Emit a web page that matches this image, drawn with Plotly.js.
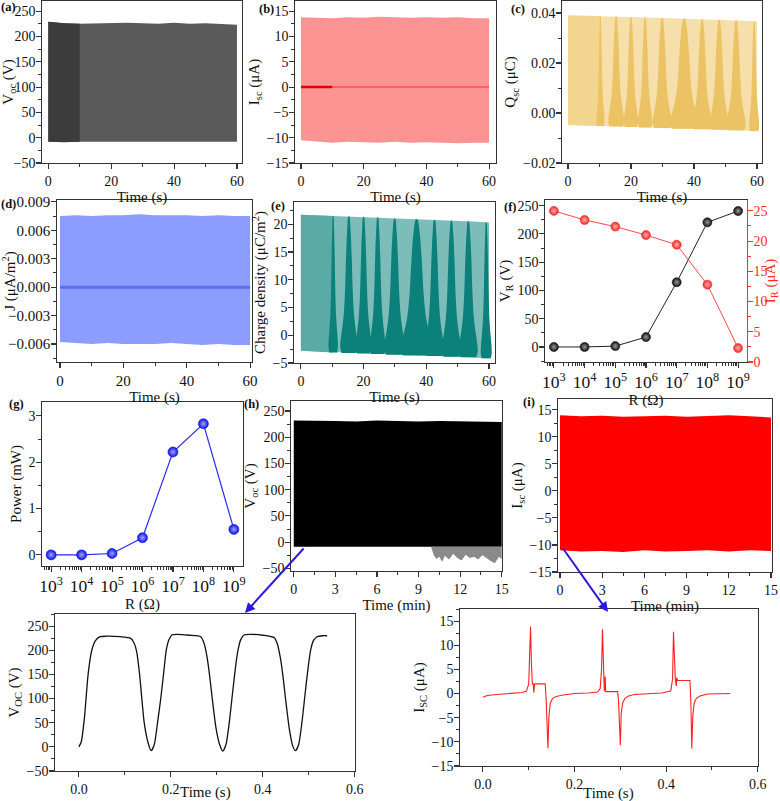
<!DOCTYPE html>
<html><head><meta charset="utf-8">
<script src="https://cdn.plot.ly/plotly-3.0.1.min.js"></script>
<style>html,body{margin:0;padding:0;background:#fff}</style>
</head><body><div id="chart" style="width:780px;height:801px"></div>
<script>
// ---------------- DATA ----------------
// (a) Voc envelope, 60 s
const aTime = [0, 5, 10, 15, 20, 25, 30, 35, 40, 45, 50, 55, 60];
const aVocTop = [229, 226, 225, 226, 226, 227, 226, 225, 227, 225, 226, 224, 223];
const aVocBottom = [-8, -9, -8, -8, -8, -8, -8, -8, -8, -8, -8, -8, -8];
const aDenseEnd = 10;
// (b) Isc envelope
const bTime = [0, 5, 10, 15, 20, 25, 30, 35, 40, 45, 50, 55, 60];
const bIscTop = [13.8, 13.7, 13.6, 13.8, 13.7, 13.9, 13.8, 13.7, 13.8, 13.7, 13.8, 13.6, 13.6];
const bIscBottom = [-10.5, -10.8, -11.0, -10.8, -10.9, -11.0, -10.8, -11.0, -10.9, -11.0, -11.1, -11.0, -11.0];
const bBaseTime = [0, 10];
const bBase = [0, 0];
const bBaseTime2 = [10, 60];
const bBase2 = [0, 0];
// (c) Qsc envelope and beat lobes
const cTime = [0, 5, 10, 15, 20, 25, 30, 35, 40, 45, 50, 55, 60];
const cQTop = [0.0390, 0.0389, 0.0388, 0.0386, 0.0384, 0.0382, 0.0380, 0.0378, 0.0376, 0.0374, 0.0372, 0.0370, 0.0367];
const cQBottom = [-0.0048, -0.0050, -0.0052, -0.0054, -0.0056, -0.0058, -0.0060, -0.0062, -0.0064, -0.0066, -0.0068, -0.0070, -0.0073];
const lobeCenters = [10.3, 15.3, 20.0, 24.5, 29.9, 36.9, 42.6, 48.0, 53.4, 59.1];
const cLobeWidths = [2.5, 5.0, 4.5, 4.5, 6.0, 9.0, 6.0, 6.0, 6.0, 3.2];
// (d) current density envelope
const dTime = [0, 5, 10, 15, 20, 25, 30, 35, 40, 45, 50, 55, 60];
const dJTop = [0.0075, 0.0076, 0.0075, 0.0076, 0.0076, 0.0077, 0.0076, 0.0076, 0.0076, 0.0075, 0.0076, 0.0075, 0.0075];
const dJBottom = [-0.0058, -0.0059, -0.0060, -0.0059, -0.0060, -0.0060, -0.0060, -0.0059, -0.0060, -0.0061, -0.0060, -0.0061, -0.0061];
const dBaseTime = [0, 60];
const dBase = [0, 0];
// (e) charge density envelope and lobes
const eTime = [0, 5, 10, 15, 20, 25, 30, 35, 40, 45, 50, 55, 60];
const eTop = [21.7, 21.6, 21.5, 21.4, 21.3, 21.2, 21.0, 20.9, 20.8, 20.7, 20.6, 20.5, 20.3];
const eBottom = [-2.8, -2.9, -3.1, -3.2, -3.3, -3.4, -3.5, -3.6, -3.7, -3.8, -3.9, -4.0, -4.2];
const eLobeWidths = [3.0, 5.5, 5.0, 5.0, 6.5, 10.0, 6.0, 6.0, 6.0, 3.5];
// (f) load resistance sweep
const fR = [1e3, 1e4, 1e5, 1e6, 1e7, 1e8, 1e9];
const fVR = [0, 0, 1.5, 17.5, 114.5, 220.5, 240.5];
const fIR = [25.0, 23.5, 22.4, 21.0, 19.4, 12.8, 2.3];
// (g) power
const gR = [1e3, 1e4, 1e5, 1e6, 1e7, 1e8, 1e9];
const gPower = [0, 0, 0.03, 0.37, 2.22, 2.83, 0.55];
// (h) Voc 15 min
const hTime = [0, 1.5, 3, 4.5, 6, 7.5, 9, 10.5, 12, 13.5, 15];
const hVocTop = [232, 232, 231, 230, 232, 231, 230, 231, 230, 230, 229];
const hVocBottom = [-9, -9, -9, -9, -9, -9, -9, -9, -9, -9, -9];
const hNoiseTime = [9.9, 10.1, 10.3, 10.5, 10.7, 10.9, 11.2, 11.5, 11.8, 12.1, 12.4, 12.7, 13.0, 13.3, 13.6, 13.9, 14.2, 14.5, 14.8, 15];
const hNoiseLow = [-9, -25, -32, -28, -38, -26, -33, -22, -30, -35, -24, -30, -28, -33, -25, -30, -36, -40, -28, -32];
const hNoiseHigh = [-9, -9, -9, -9, -9, -9, -9, -9, -9, -9, -9, -9, -9, -9, -9, -9, -9, -9, -9, -9];
// (i) Isc 15 min
const iTime = [0, 1.5, 3, 4.5, 6, 7.5, 9, 10.5, 12, 13.5, 15];
const iIscTop = [14.0, 13.8, 13.9, 13.7, 13.8, 13.9, 13.7, 13.8, 14.0, 13.8, 13.6];
const iIscBottom = [-11.0, -11.2, -11.1, -11.3, -11.0, -11.2, -11.1, -11.0, -11.2, -11.0, -11.1];
// (j) Voc zoom-in
const jTime = [0, 0.005, 0.012, 0.02, 0.028, 0.036, 0.046, 0.06, 0.09, 0.112, 0.12, 0.126, 0.132, 0.142, 0.15, 0.157, 0.164, 0.171, 0.178, 0.184, 0.19, 0.196, 0.203, 0.215, 0.24, 0.265, 0.272, 0.278, 0.284, 0.29, 0.298, 0.306, 0.313, 0.32, 0.327, 0.334, 0.34, 0.346, 0.352, 0.36, 0.375, 0.4, 0.425, 0.432, 0.438, 0.444, 0.45, 0.458, 0.465, 0.471, 0.478, 0.485, 0.492, 0.498, 0.504, 0.51, 0.518, 0.53, 0.54];
const jVoc = [0, 10, 60, 150, 200, 220, 228, 229, 228, 225, 215, 195, 150, 50, 10, -8, 5, 50, 100, 150, 200, 222, 232, 233, 231, 228, 215, 190, 150, 100, 40, 5, -9, 5, 50, 110, 160, 200, 222, 232, 233, 231, 226, 212, 185, 145, 95, 35, 2, -8, 5, 50, 110, 160, 200, 220, 228, 230, 230];
// (k) Isc zoom-in
const kTime = [0, 0.01, 0.03, 0.06, 0.085, 0.095, 0.1, 0.102, 0.104, 0.106, 0.108, 0.11, 0.111, 0.113, 0.125, 0.136, 0.138, 0.14, 0.142, 0.144, 0.147, 0.152, 0.16, 0.175, 0.2, 0.23, 0.25, 0.256, 0.259, 0.261, 0.263, 0.265, 0.267, 0.268, 0.27, 0.28, 0.294, 0.296, 0.298, 0.3, 0.302, 0.305, 0.31, 0.318, 0.33, 0.36, 0.39, 0.41, 0.414, 0.416, 0.418, 0.42, 0.422, 0.423, 0.425, 0.44, 0.452, 0.454, 0.456, 0.458, 0.461, 0.466, 0.474, 0.49, 0.52, 0.54];
const kIsc = [-0.7, -0.4, -0.2, 0, 0.2, 0.5, 2, 8, 13.8, 6, 2, 2, 0.2, 2, 2, 2, -1, -6, -11.3, -5, -2, -1, -0.6, -0.3, 0, 0.1, 0.3, 1, 5, 13.3, 4, 0.5, 3.5, 0.4, 0.4, 0.4, 0.4, -1.5, -6, -10.7, -4, -2, -1, -0.5, -0.2, 0, 0.1, 0.5, 3, 12.8, 5, 3, 1.5, 3.3, 2.7, 2.7, 2.7, -2, -11.4, -5, -2, -1, -0.5, -0.1, 0, 0];

// ---------------- LAYOUT / STYLE ----------------
const W = 780, H = 801;
const FONT = 'Liberation Serif';
// pixel boxes [x0, x1, y0, y1] of each panel frame
const boxes = {
  a: [42, 242, 1, 163], b: [295, 496, 1, 163], c: [562, 762, 1, 163],
  d: [57, 252, 200, 362], e: [294, 495, 202, 363], f: [545, 747, 200, 362],
  g: [42, 243, 402, 566], h: [291, 502, 401, 571], i: [558, 772, 399, 572],
  j: [55, 355, 614, 771], k: [460, 758, 609, 766]
};
const ids = ['a','b','c','d','e','f','g','h','i','j','k'];
const idx = {}; ids.forEach((k, n) => idx[k] = n + 1);
function xname(k){ return idx[k] === 1 ? 'x' : 'x' + idx[k]; }
function yname(k){ return idx[k] === 1 ? 'y' : 'y' + idx[k]; }

function axis(k, isX, o) {
  const b = boxes[k];
  const dom = isX ? [b[0] / W, b[1] / W] : [1 - b[3] / H, 1 - b[2] / H];
  const a = {
    domain: dom, anchor: isX ? yname(k) : xname(k),
    range: o.range, type: o.type || 'linear',
    showline: true, linecolor: '#333', linewidth: 1.3, mirror: o.mirror === undefined ? true : o.mirror,
    ticks: 'outside', ticklen: 4.5, tickwidth: 1.1, tickcolor: '#333',
    tickfont: {family: FONT, size: o.tickSize || 14, color: '#111'},
    showgrid: false, zeroline: false,
    title: {text: o.title || '', font: {family: FONT, size: o.titleSize || 15, color: '#111'}, standoff: o.standoff === undefined ? 3 : o.standoff}
  };
  if (!isX) a.ticklabelstandoff = -2;
  if (o.dtick !== undefined) { a.dtick = o.dtick; a.tick0 = 0; }
  if (o.tickformat) a.tickformat = o.tickformat;
  if (o.minor) a.minor = {ticks: 'outside', ticklen: 2.5, tickwidth: 1, tickcolor: '#333', dtick: o.minor, showgrid: false};
  if (o.type === 'log') { a.exponentformat = 'power'; a.showexponent = 'all'; a.minor = {ticks: 'outside', ticklen: 2.5, tickwidth: 1, tickcolor: '#333', dtick: 'D1', showgrid: false}; }
  return a;
}

function band(k, xs, top, bot, color) {
  return {x: xs.concat(xs.slice().reverse()), y: top.concat(bot.slice().reverse()),
    xaxis: xname(k), yaxis: yname(k), mode: 'lines', fill: 'toself', fillcolor: color,
    line: {width: 0, color: color}, hoverinfo: 'skip', showlegend: false};
}
function interp(xs, ys, x) {
  for (let n = 0; n < xs.length - 1; n++) {
    if (x <= xs[n + 1]) { const f = (x - xs[n]) / (xs[n + 1] - xs[n]); return ys[n] + f * (ys[n + 1] - ys[n]); }
  }
  return ys[ys.length - 1];
}
function sub(xs, ys, x0, x1) {
  const X = [x0], Y = [interp(xs, ys, x0)];
  xs.forEach((x, n) => { if (x > x0 && x < x1) { X.push(x); Y.push(ys[n]); } });
  X.push(x1); Y.push(interp(xs, ys, x1));
  return [X, Y];
}
// lobe outline profile (style): height fraction vs half-width fraction
const lobeH = [0, 0.04, 0.1, 0.18, 0.28, 0.45, 0.7, 0.92, 1.0];
const lobeM = [0.85, 1.0, 0.95, 0.78, 0.6, 0.45, 0.33, 0.18, 0.05];
function lobes(k, xs, top, bot, centers, widths, color) {
  return centers.map((c, n) => {
    const T = interp(xs, top, c), B = interp(xs, bot, c), hw = widths[n] / 2;
    const X = [], Y = [];
    lobeH.forEach((h, m) => { X.push(c - hw * lobeM[m]); Y.push(B + h * (T - B)); });
    for (let m = lobeH.length - 1; m >= 0; m--) { X.push(c + hw * lobeM[m]); Y.push(B + lobeH[m] * (T - B)); }
    return {x: X, y: Y, xaxis: xname(k), yaxis: yname(k), mode: 'lines', fill: 'toself',
      fillcolor: color, line: {width: 0, color: color, shape: 'spline'}, hoverinfo: 'skip', showlegend: false};
  });
}
function line(k, xs, ys, color, width, extra) {
  return Object.assign({x: xs, y: ys, xaxis: xname(k), yaxis: yname(k), mode: 'lines',
    line: {color: color, width: width}, hoverinfo: 'skip', showlegend: false}, extra || {});
}

const traces = [];
// (a)
traces.push(band('a', aTime, aVocTop, aVocBottom, '#5a5a5a'));
const aD = sub(aTime, aVocTop, 0, aDenseEnd), aDb = sub(aTime, aVocBottom, 0, aDenseEnd);
traces.push(band('a', aD[0], aD[1], aDb[1], '#3c3c3c'));
// (b)
traces.push(band('b', bTime, bIscTop, bIscBottom, '#fb9393'));
traces.push(line('b', bBaseTime2, bBase2, '#ff5050', 1.5));
traces.push(line('b', bBaseTime, bBase, '#e00000', 2.5));
// (c)
traces.push(band('c', cTime, cQTop, cQBottom, '#f6dfaa'));
const cD = sub(cTime, cQTop, 0, lobeCenters[0]), cDb = sub(cTime, cQBottom, 0, lobeCenters[0]);
traces.push(band('c', cD[0], cD[1], cDb[1], '#f2d68f'));
lobes('c', cTime, cQTop, cQBottom, lobeCenters, cLobeWidths, '#ebc364').forEach(t => traces.push(t));
// (d)
traces.push(band('d', dTime, dJTop, dJBottom, '#8c9cff'));
traces.push(line('d', dBaseTime, dBase, '#5a6cf6', 3));
// (e)
traces.push(band('e', eTime, eTop, eBottom, '#7dbdb9'));
const eD = sub(eTime, eTop, 0, lobeCenters[0]), eDb = sub(eTime, eBottom, 0, lobeCenters[0]);
traces.push(band('e', eD[0], eD[1], eDb[1], '#5aaba6'));
lobes('e', eTime, eTop, eBottom, lobeCenters, eLobeWidths, '#0c807a').forEach(t => traces.push(t));
// (f)
const sphere = (col, grad, size) => ({size: size, color: col, line: {width: 0.6, color: col}, gradient: {type: 'radial', color: grad}});
traces.push({x: fR, y: fVR, xaxis: 'x6', yaxis: 'y6', mode: 'lines+markers', line: {color: '#222', width: 1},
  marker: sphere('#111', '#9a9a9a', 9), hoverinfo: 'skip', showlegend: false});
traces.push({x: fR, y: fIR, xaxis: 'x6', yaxis: 'y12', mode: 'lines+markers', line: {color: '#ff4848', width: 1},
  marker: sphere('#ee2a2a', '#ffb0b0', 9), hoverinfo: 'skip', showlegend: false});
// (g)
traces.push({x: gR, y: gPower, xaxis: 'x7', yaxis: 'y7', mode: 'lines+markers', line: {color: '#2a2af5', width: 1.2},
  marker: sphere('#1010e8', '#9fa8ff', 10), hoverinfo: 'skip', showlegend: false});
// (h)
traces.push(band('h', hTime, hVocTop, hVocBottom, '#000000'));
traces.push(band('h', hNoiseTime, hNoiseHigh, hNoiseLow, '#8a8a8a'));
// (i)
traces.push(band('i', iTime, iIscTop, iIscBottom, '#ff0000'));
// (j)
traces.push(line('j', jTime, jVoc, '#111', 1.3, {line: {color: '#111', width: 1.3, shape: 'spline', smoothing: 0.6}}));
// (k)
traces.push(line('k', kTime, kIsc, '#ff2020', 1.1));

const layout = {
  width: W, height: H, margin: {l: 0, r: 0, t: 0, b: 0},
  paper_bgcolor: '#fff', plot_bgcolor: '#fff', showlegend: false,
  font: {family: FONT, color: '#111'},
  xaxis: axis('a', true, {range: [-2, 61.6], dtick: 20, minor: 10, title: 'Time (s)'}),
  yaxis: axis('a', false, {range: [-50, 270], dtick: 50, minor: 25, title: 'V<sub>oc</sub> (V)'}),
  xaxis2: axis('b', true, {range: [-1.9, 62.2], dtick: 20, minor: 10, title: 'Time (s)'}),
  yaxis2: axis('b', false, {range: [-15, 17], dtick: 5, minor: 2.5, title: 'I<sub>sc</sub> (μA)'}),
  xaxis3: axis('c', true, {range: [-1.9, 61.6], dtick: 20, minor: 10, title: 'Time (s)'}),
  yaxis3: axis('c', false, {range: [-0.02, 0.0448], dtick: 0.02, minor: 0.01, tickformat: '.2f', title: 'Q<sub>sc</sub> (μC)'}),
  xaxis4: axis('d', true, {range: [-0.95, 60.6], dtick: 20, minor: 10, title: 'Time (s)', tickSize: 15}),
  yaxis4: axis('d', false, {range: [-0.0079, 0.0092], dtick: 0.003, minor: 0.0015, tickformat: '.3f', title: 'J (μA/m<sup>2</sup>)', tickSize: 15}),
  xaxis5: axis('e', true, {range: [-2.2, 61.9], dtick: 20, minor: 10, title: 'Time (s)'}),
  yaxis5: axis('e', false, {range: [-5, 24], dtick: 5, minor: 2.5, title: 'Charge density (μC/m<sup>2</sup>)'}),
  xaxis6: axis('f', true, {type: 'log', range: [2.71, 9.29], dtick: 1, title: 'R (Ω)'}),
  yaxis6: axis('f', false, {range: [-26.6, 260], dtick: 50, minor: 25, title: 'V<sub>R</sub> (V)', mirror: false}),
  yaxis12: Object.assign(axis('f', false, {range: [0, 26.8], dtick: 5, minor: 2.5, title: 'I<sub>R</sub> (μA)', mirror: false}), {
    overlaying: 'y6', side: 'right', anchor: 'x6', linecolor: '#ff3030', tickcolor: '#ff3030',
    tickfont: {family: FONT, size: 14, color: '#ff2a2a'},
    title: {text: 'I<sub>R</sub> (μA)', font: {family: FONT, size: 15, color: '#ff2a2a'}, standoff: 3},
    minor: {ticks: 'outside', ticklen: 2.5, tickwidth: 1, tickcolor: '#ff3030', dtick: 2.5, showgrid: false}}),
  xaxis7: axis('g', true, {type: 'log', range: [2.70, 9.30], dtick: 1, title: 'R (Ω)'}),
  yaxis7: axis('g', false, {range: [-0.24, 3.3], dtick: 1, minor: 0.5, title: 'Power (mW)'}),
  xaxis8: axis('h', true, {range: [-0.2, 15.02], dtick: 3, minor: 1.5, title: 'Time (min)'}),
  yaxis8: axis('h', false, {range: [-55, 269], dtick: 50, minor: 25, title: 'V<sub>oc</sub> (V)'}),
  xaxis9: axis('i', true, {range: [-0.14, 15.07], dtick: 3, minor: 1.5, title: 'Time (min)'}),
  yaxis9: axis('i', false, {range: [-15, 17], dtick: 5, minor: 2.5, title: 'I<sub>sc</sub> (μA)'}),
  xaxis10: axis('j', true, {range: [-0.052, 0.6005], dtick: 0.2, minor: 0.1, tickformat: '.1f'}),
  yaxis10: axis('j', false, {range: [-50, 275], dtick: 50, minor: 25, title: 'V<sub>OC</sub> (V)'}),
  xaxis11: axis('k', true, {range: [-0.05, 0.6005], dtick: 0.2, minor: 0.1, tickformat: '.1f'}),
  yaxis11: axis('k', false, {range: [-15, 17.5], dtick: 5, minor: 2.5, title: 'I<sub>SC</sub> (μA)'}),
  annotations: []
};

function note(text, xp, yp, opts) {
  layout.annotations.push(Object.assign({text: text, x: xp / W, y: 1 - yp / H, xref: 'paper', yref: 'paper',
    xanchor: 'center', yanchor: 'middle', showarrow: false,
    font: {family: FONT, size: 14, color: '#111'}}, opts || {}));
}
const labels = [['(a)', 8, 7], ['(b)', 266, 9], ['(c)', 518, 9], ['(d)', 8, 204], ['(e)', 278, 206],
  ['(f)', 510, 207], ['(g)', 16, 404], ['(h)', 251, 404], ['(i)', 529, 402]];
labels.forEach(l => note('<b>' + l[0] + '</b>', l[1], l[2], {font: {family: FONT, size: 12.5, color: '#111'}}));
note('Time (s)', 205, 792, {font: {family: FONT, size: 15, color: '#111'}});
note('Time (s)', 608, 793, {font: {family: FONT, size: 15, color: '#111'}});
// blue connector arrows
layout.annotations.push({x: 245 / W, y: 1 - 613 / H, xref: 'paper', yref: 'paper', ax: 60, ay: -66, text: '',
  showarrow: true, arrowhead: 2, arrowsize: 1, arrowwidth: 2, arrowcolor: '#2a1ae0'});
layout.annotations.push({x: 608 / W, y: 1 - 612 / H, xref: 'paper', yref: 'paper', ax: -46, ay: -65, text: '',
  showarrow: true, arrowhead: 2, arrowsize: 1, arrowwidth: 2, arrowcolor: '#2a1ae0'});

Plotly.newPlot('chart', traces, layout, {staticPlot: true, displayModeBar: false});
</script>
</body></html>
